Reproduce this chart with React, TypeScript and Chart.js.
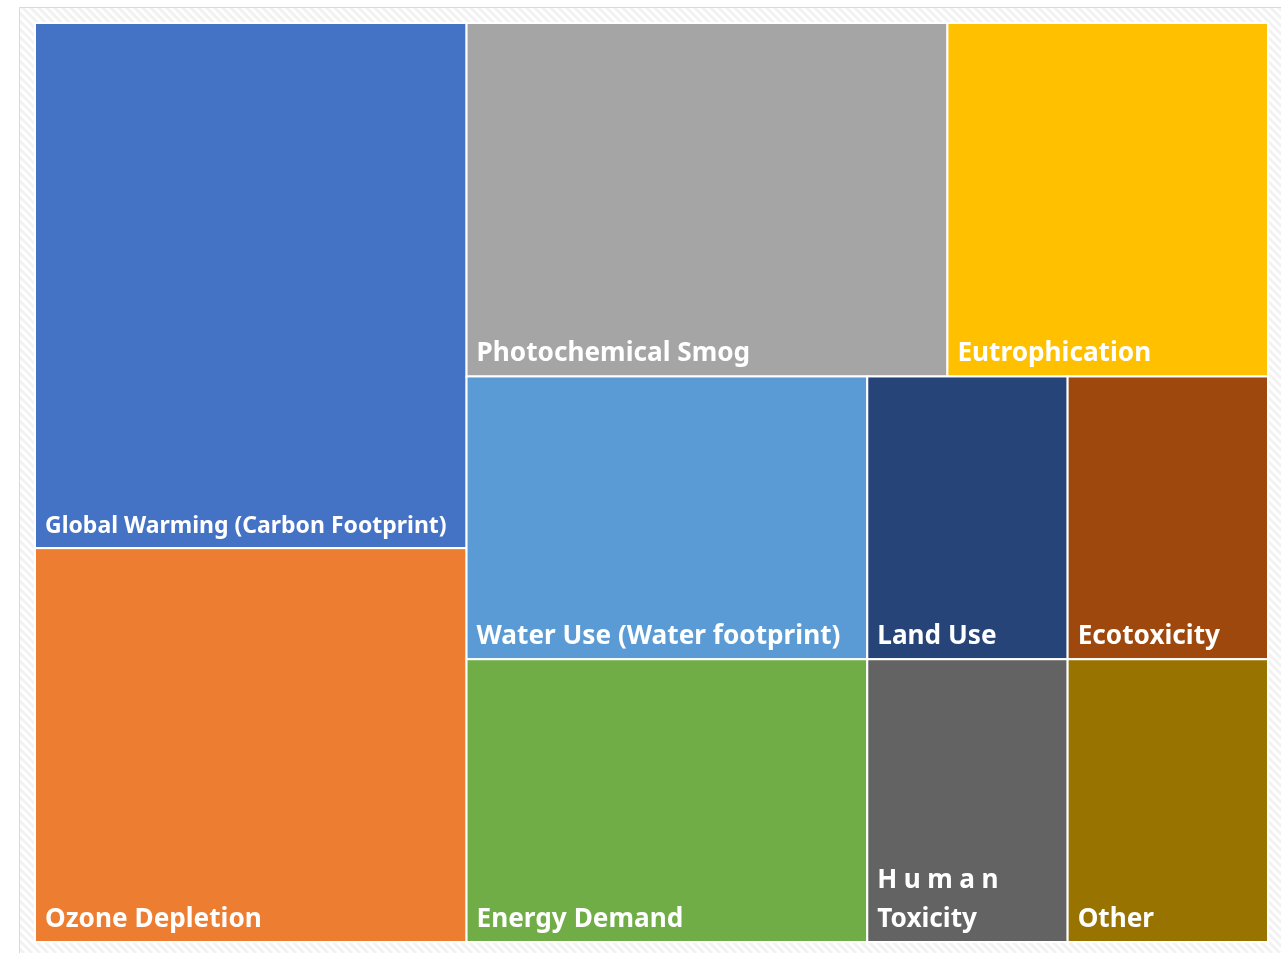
import React, { useEffect, useRef } from "react";
import { Chart, registerables } from "chart.js";

Chart.register(...registerables);

// Impact categories and their share of the total (%)
const categories = [
  "Global Warming (Carbon Footprint)",
  "Ozone Depletion",
  "Photochemical Smog",
  "Eutrophication",
  "Water Use (Water footprint)",
  "Energy Demand",
  "Land Use",
  "Ecotoxicity",
  "Human Toxicity",
  "Other",
];
const shares = [20, 15, 15, 10, 10, 10, 5, 5, 5, 5];
const palette = [
  "#4472C4",
  "#ED7D31",
  "#A5A5A5",
  "#FFC000",
  "#5B9BD5",
  "#70AD47",
  "#264478",
  "#9E480E",
  "#636363",
  "#997300",
];

type Cell = { i: number; x: number; y: number; w: number; h: number };

// Squarified treemap layout in a box of size (W x H)
function squarify(values: number[], W: number, H: number): Cell[] {
  const total = values.reduce((a, b) => a + b, 0);
  const areas = values.map((v) => (v / total) * W * H);
  const out: Cell[] = [];
  let x = 0,
    y = 0,
    w = W,
    h = H;
  let k = 0;
  const worst = (row: number[], s: number) => {
    const sum = row.reduce((a, b) => a + b, 0);
    const mx = Math.max(...row);
    const mn = Math.min(...row);
    return Math.max((s * s * mx) / (sum * sum), (sum * sum) / (s * s * mn));
  };
  while (k < areas.length) {
    const s = Math.min(w, h);
    const row = [areas[k]];
    let j = k + 1;
    while (j < areas.length && worst([...row, areas[j]], s) <= worst(row, s)) {
      row.push(areas[j]);
      j++;
    }
    const sum = row.reduce((a, b) => a + b, 0);
    if (w >= h) {
      const cw = sum / h;
      let cy = y;
      row.forEach((a, r) => {
        const ch = a / cw;
        out.push({ i: k + r, x, y: cy, w: cw, h: ch });
        cy += ch;
      });
      x += cw;
      w -= cw;
    } else {
      const rh = sum / w;
      let cx = x;
      row.forEach((a, r) => {
        const rw = a / rh;
        out.push({ i: k + r, x: cx, y, w: rw, h: rh });
        cx += rw;
      });
      y += rh;
      h -= rh;
    }
    k = j;
  }
  return out;
}

const framePlugin = {
  id: "frame",
  beforeDraw(chart: any) {
    const { ctx, width, height } = chart;
    ctx.save();
    ctx.fillStyle = "#ffffff";
    ctx.fillRect(0, 0, width, height);
    // hatched panel background
    ctx.beginPath();
    ctx.rect(19, 7, width - 19, height - 7);
    ctx.clip();
    ctx.strokeStyle = "#f2f2f2";
    ctx.lineWidth = 3;
    for (let d = -height; d < width + height; d += 8) {
      ctx.beginPath();
      ctx.moveTo(d, 0);
      ctx.lineTo(d + height, height);
      ctx.stroke();
    }
    ctx.restore();
    ctx.save();
    ctx.strokeStyle = "#d9d9d9";
    ctx.lineWidth = 1;
    ctx.beginPath();
    ctx.moveTo(19.5, height);
    ctx.lineTo(19.5, 7.5);
    ctx.lineTo(width, 7.5);
    ctx.stroke();
    ctx.restore();
  },
};

const FONT_SIZE = 26.2;
const FONT_FAMILY = "'Noto Sans', 'Open Sans', sans-serif";

const treemapPlugin = {
  id: "treemap",
  afterDatasetsDraw(chart: any) {
    const { ctx } = chart;
    const xs = chart.scales.x;
    const ys = chart.scales.y;
    const pw = Math.abs(xs.getPixelForValue(1) - xs.getPixelForValue(0));
    const ph = Math.abs(ys.getPixelForValue(1) - ys.getPixelForValue(0));
    const aspect = pw / ph;
    const cells = squarify(shares, aspect, 1);
    ctx.save();
    cells.forEach((c) => {
      const x0 = xs.getPixelForValue(c.x / aspect);
      const x1 = xs.getPixelForValue((c.x + c.w) / aspect);
      const y0 = ys.getPixelForValue(c.y);
      const y1 = ys.getPixelForValue(c.y + c.h);
      const left = Math.min(x0, x1);
      const top = Math.min(y0, y1);
      const cw = Math.abs(x1 - x0);
      const chh = Math.abs(y1 - y0);
      ctx.fillStyle = palette[c.i];
      ctx.fillRect(left, top, cw, chh);
      ctx.strokeStyle = "#ffffff";
      ctx.lineWidth = 2;
      ctx.strokeRect(left, top, cw, chh);

      // label at bottom-left: long labels shrink to fit, short ones wrap
      const pad = 10;
      const avail = cw - 30;
      const label = categories[c.i];
      const words = label.split(" ");
      ctx.font = `bold ${FONT_SIZE}px ${FONT_FAMILY}`;
      ctx.fillStyle = "#ffffff";
      ctx.textBaseline = "alphabetic";
      ctx.textAlign = "left";
      (ctx as any).letterSpacing = "0px";
      const full = ctx.measureText(label).width;
      let lines: string[] = [label];
      let size = FONT_SIZE;
      if (full > avail) {
        if (words.length > 2) {
          size = (FONT_SIZE * avail) / full;
        } else {
          lines = [];
          let cur = "";
          words.forEach((wd) => {
            const t = cur ? cur + " " + wd : wd;
            if (cur && ctx.measureText(t).width > avail) {
              lines.push(cur);
              cur = wd;
            } else cur = t;
          });
          lines.push(cur);
        }
      }
      ctx.font = `bold ${size}px ${FONT_FAMILY}`;
      const lh = 39;
      lines.forEach((ln, li) => {
        const by = top + chh - 15 - (lines.length - 1 - li) * lh;
        (ctx as any).letterSpacing = li < lines.length - 1 ? "6.5px" : "0px";
        ctx.fillText(ln, left + pad, by);
      });
      (ctx as any).letterSpacing = "0px";
    });
    ctx.restore();
  },
};

export default function App() {
  const ref = useRef<HTMLCanvasElement | null>(null);
  useEffect(() => {
    if (!ref.current) return;
    const chart = new Chart(ref.current, {
      type: "scatter",
      data: {
        datasets: [
          {
            label: "share",
            data: [],
          },
        ],
      },
      options: {
        animation: false,
        responsive: false,
        maintainAspectRatio: false,
        layout: { padding: { left: 35, top: 23, right: 13, bottom: 11 } },
        plugins: { legend: { display: false }, tooltip: { enabled: false } },
        scales: {
          x: { type: "linear", min: 0, max: 1, display: false },
          y: { type: "linear", min: 0, max: 1, reverse: true, display: false },
        },
      },
      plugins: [framePlugin, treemapPlugin],
    });
    return () => chart.destroy();
  }, []);
  return (
    <div style={{ position: "fixed", left: 0, top: 0, width: 1281, height: 953, overflow: "hidden" }}>
      <canvas ref={ref} width={1281} height={953} style={{ display: "block" }} />
    </div>
  );
}
